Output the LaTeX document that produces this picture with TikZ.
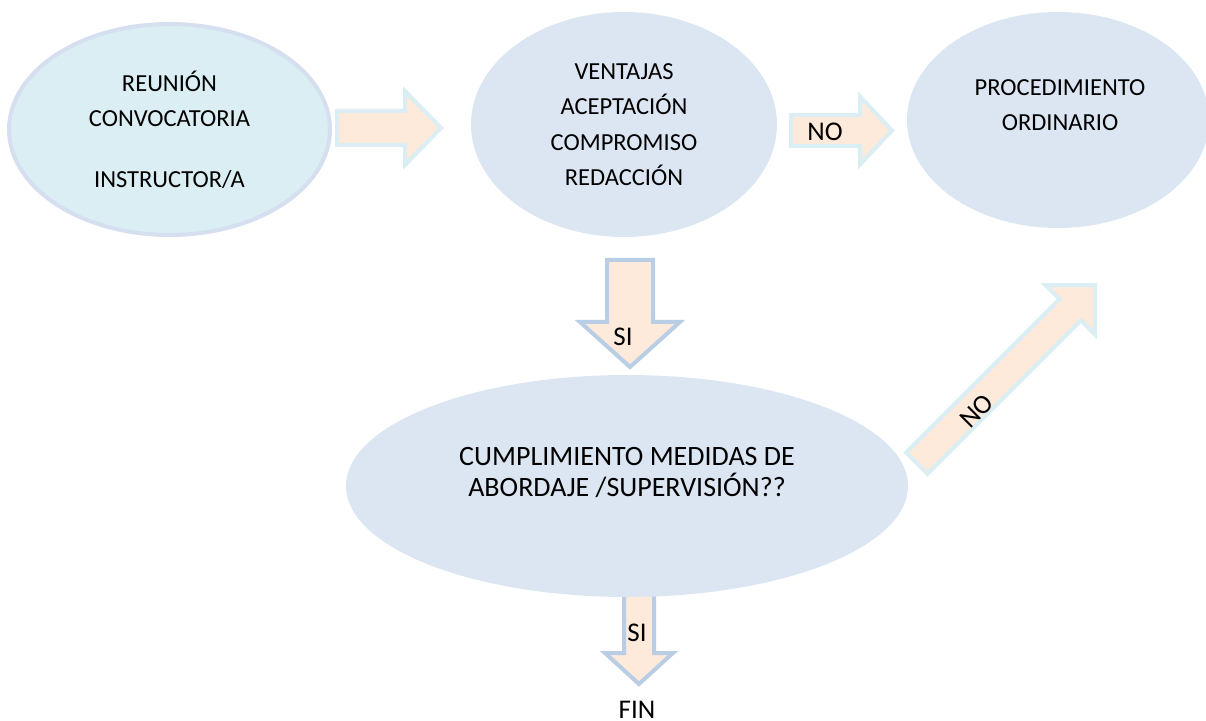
\documentclass[tikz,border=0pt]{standalone}
\usepackage{fontspec}
\setmainfont{Carlito}
\usetikzlibrary{shapes.geometric}
\definecolor{peach}{HTML}{FDEADA}
\definecolor{iceblue}{HTML}{DAEEF3}
\definecolor{lavender}{HTML}{D5DFEF}
\definecolor{bubble}{HTML}{DCE6F2}
\definecolor{steel}{HTML}{B9CDE5}
% block arrow: [style] {tail} {angle} {length} {head length} {half shaft} {half head}
\newcommand{\blockarrow}[7][]{%
  \draw[#1,shift={#2},rotate=#3] (0,-#6)--(#4-#5,-#6)--(#4-#5,-#7)--(#4,0)
    --(#4-#5,#7)--(#4-#5,#6)--(0,#6)--cycle;}
\tikzset{
  bubbleshape/.style={ellipse,fill=bubble,draw=none,inner sep=0pt,align=center,
    font=\fontsize{24.5}{35.5}\selectfont},
  txt/.style={align=center,inner sep=0pt,font=\fontsize{24.5}{35.5}\selectfont},
  tag/.style={inner sep=0pt,font=\fontsize{27}{30}\selectfont},
  flat/.style={fill=peach,draw=iceblue,line width=4pt,line join=miter},
  drop/.style={fill=peach,draw=steel,line width=4pt,line join=miter},
}
\begin{document}
\begin{tikzpicture}[x=1pt,y=1pt]
\useasboundingbox (0,0) rectangle (1206,720);
% arrow under the big bubble first
\coordinate (tailD) at (639,130);
\blockarrow[drop]{(tailD)}{-90}{94}{31}{15}{34}
% bubbles
\node[bubbleshape,fill=iceblue,draw=lavender,line width=4pt,minimum width=321pt,minimum height=211pt]
  (reunion) at (169.5,590.5) {REUNIÓN\\CONVOCATORIA\\[25pt]INSTRUCTOR/A};
\node[bubbleshape,minimum width=306pt,minimum height=225pt]
  (ventajas) at (624,595.5) {VENTAJAS\\ACEPTACIÓN\\COMPROMISO\\REDACCIÓN};
\node[bubbleshape,minimum width=302pt,minimum height=216pt] (procedimiento) at (1058,600) {};
\node[txt] (procTxt) at ([xshift=2pt,yshift=15pt]procedimiento.center) {PROCEDIMIENTO\\ORDINARIO};
\node[bubbleshape,minimum width=562pt,minimum height=222pt] (cumplimiento) at (627,234) {};
\node[txt,font=\fontsize{28}{31}\selectfont] (cumpTxt) at ([yshift=13.5pt]cumplimiento.center)
  {CUMPLIMIENTO MEDIDAS DE\\ABORDAJE /SUPERVISIÓN??};
% block arrows
\coordinate (tailA) at (337,592);
\coordinate (tailB) at (791,589.5);
\coordinate (tailC) at (630,460);
\coordinate (tailE) at (916.8,256.8);
\blockarrow[flat]{(tailA)}{0}{104}{36}{17}{37}
\blockarrow[flat]{(tailB)}{0}{101}{32}{15.5}{34}
\blockarrow[drop]{(tailC)}{-90}{107}{45}{23}{50}
\blockarrow[flat]{(tailE)}{45}{252}{35}{15}{35}
% labels
\node[tag] (noA) at (825,588) {NO};
\node[tag] (siA) at (623,383) {SI};
\node[tag] (siB) at (637,87) {SI};
\node[tag,rotate=45] (noB) at (977,309) {NO};
\node[tag] (fin) at (637,10) {FIN};
\end{tikzpicture}
\end{document}
